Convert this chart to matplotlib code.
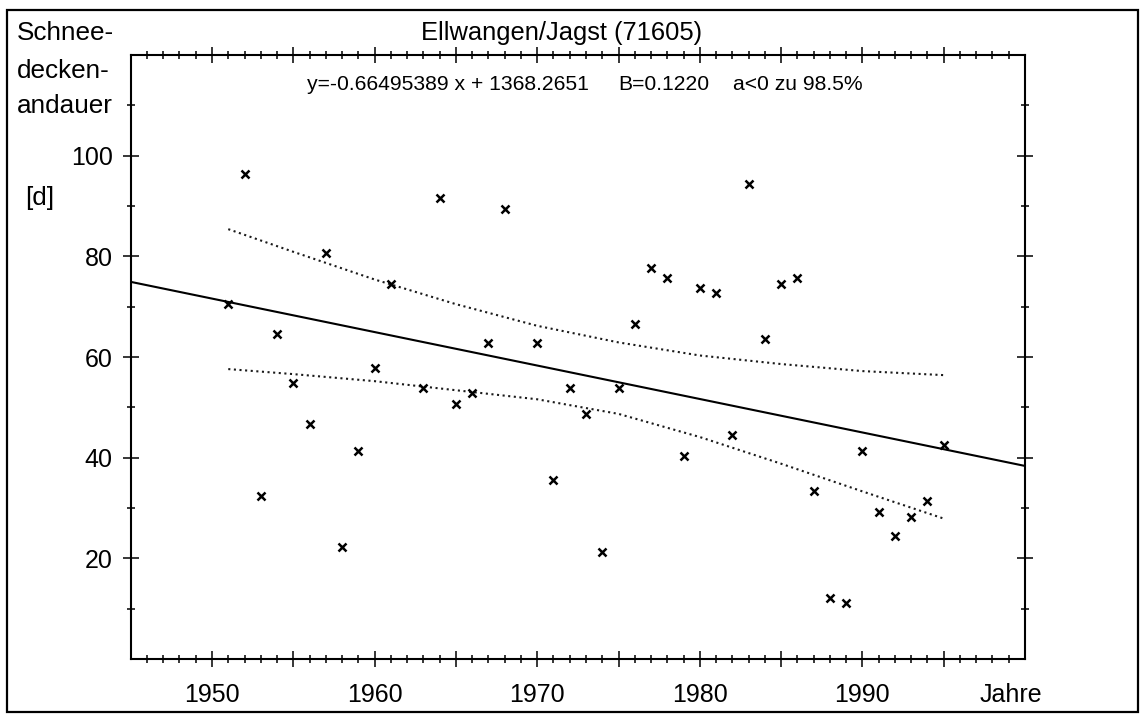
import matplotlib
matplotlib.use('Agg')
import matplotlib.pyplot as plt
from matplotlib.patches import Rectangle
import numpy as np

plt.rcParams['font.family'] = ['Liberation Sans', 'DejaVu Sans']

# Schneedeckenandauer Ellwangen/Jagst, Winter 1951-1995
jahre = [1951, 1952, 1953, 1954, 1955, 1956, 1957, 1958, 1959, 1960,
         1961, 1963, 1964, 1965, 1966, 1967, 1968, 1970, 1971, 1972,
         1973, 1974, 1975, 1976, 1977, 1978, 1979, 1980, 1981, 1982,
         1983, 1984, 1985, 1986, 1987, 1988, 1989, 1990, 1991, 1992,
         1993, 1994, 1995]
tage = [70.5, 96.3, 32.4, 64.5, 54.8, 46.6, 80.6, 22.3, 41.4, 57.8,
        74.5, 53.8, 91.5, 50.7, 52.8, 62.7, 89.5, 62.8, 35.6, 53.9,
        48.7, 21.3, 53.9, 66.6, 77.6, 75.7, 40.4, 73.7, 72.7, 44.6,
        94.4, 63.6, 74.6, 75.6, 33.4, 12.1, 11.1, 41.4, 29.3, 24.4,
        28.3, 31.4, 42.5]

# Regressionsgerade aus dem Diagrammtext
steigung = -0.66495389
achsabschnitt = 1368.2651

# Vertrauensbereich (punktiert)
band_jahre = [1951, 1955, 1960, 1965, 1970, 1975, 1980, 1985, 1990, 1995]
band_oben = [85.4, 80.9, 75.4, 70.5, 66.2, 62.9, 60.3, 58.6, 57.2, 56.4]
band_unten = [57.6, 56.6, 55.2, 53.4, 51.6, 48.7, 44.1, 38.8, 33.3, 27.9]

x_ticks = [1950, 1955, 1960, 1965, 1970, 1975, 1980, 1985, 1990, 1995]
x_labels = ['1950', '', '1960', '', '1970', '', '1980', '', '1990', '']
y_ticks = [20, 40, 60, 80, 100]
y_labels = ['20', '40', '60', '80', '100']

fig = plt.figure(figsize=(11.47, 7.14), dpi=100)
ax = fig.add_axes([130.7 / 1147, 1 - 659 / 714, (1025 - 130.7) / 1147, (659 - 55) / 714])

# Gerade ueber die ganze Achsenbreite
xl = np.array([1945, 2000])
ax.plot(xl, steigung * xl + achsabschnitt, color='black', lw=1.5, solid_capstyle='butt')

ax.plot(band_jahre, band_oben, color='#1a1a1a', lw=1.5, linestyle=(0, (1, 1.7)))
ax.plot(band_jahre, band_unten, color='#1a1a1a', lw=1.5, linestyle=(0, (1, 1.7)))

ax.plot(jahre, tage, linestyle='none', marker='x', color='black',
        markersize=5.5, markeredgewidth=1.8)

ax.set_xlim(1945, 2000)
ax.set_ylim(0, 120)
ax.set_xticks(x_ticks)
ax.set_xticklabels(x_labels)
ax.set_xticks([j for j in range(1946, 2000) if j % 5 != 0], minor=True)
ax.set_yticks(y_ticks)
ax.set_yticklabels(y_labels)
ax.set_yticks([10, 30, 50, 70, 90, 110], minor=True)

for s in ax.spines.values():
    s.set_linewidth(1.5)
ax.tick_params(which='both', direction='inout', top=True, right=True, width=1.1, color='black')
ax.tick_params(which='major', length=12, labelsize=18)
ax.tick_params(axis='x', which='major', pad=11.3)
ax.tick_params(axis='y', which='major', pad=7)
ax.tick_params(which='minor', length=5.5)

def px(x, y):
    return x / 1147, 1 - y / 714

fig.text(*px(562, 33), 'Ellwangen/Jagst (71605)', fontsize=18.4, ha='center', va='center')
fig.text(*px(307, 84), 'y=-0.66495389 x + 1368.2651', fontsize=15.2, ha='left', va='center')
fig.text(*px(618, 84), 'B=0.1220', fontsize=15.2, ha='left', va='center')
fig.text(*px(733, 84), 'a<0 zu 98.5%', fontsize=15.2, ha='left', va='center')

fig.text(*px(17, 40), 'Schnee-', fontsize=18.8, ha='left', va='baseline')
fig.text(*px(17, 78), 'decken-', fontsize=18.8, ha='left', va='baseline')
fig.text(*px(17, 113), 'andauer', fontsize=18.8, ha='left', va='baseline')
fig.text(*px(25, 198), '[d]', fontsize=18.8, ha='left', va='center')
fig.text(*px(980, 702), 'Jahre', fontsize=18, ha='left', va='baseline')

# Rahmen um die ganze Abbildung
fig.add_artist(Rectangle(px(7, 712), (1138 - 7) / 1147, (712 - 10) / 714,
                         transform=fig.transFigure, fill=False, lw=1.6, edgecolor='black'))

fig.savefig('out.png', dpi=100)
